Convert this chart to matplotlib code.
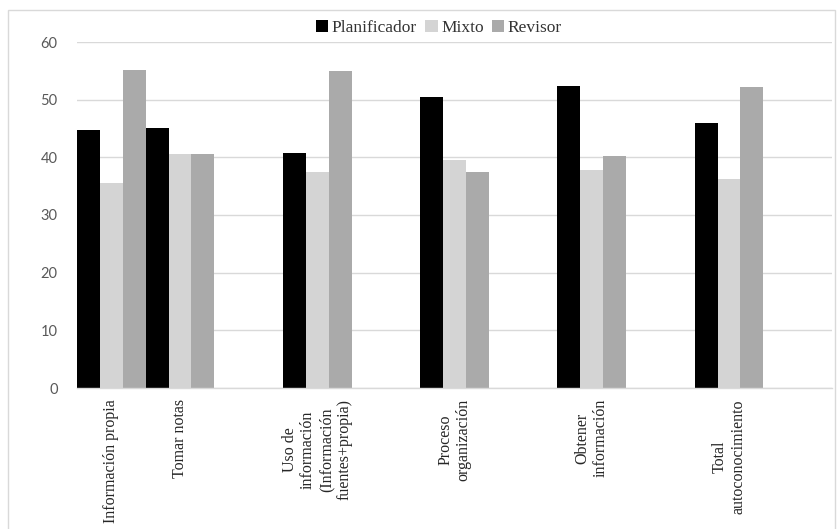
import numpy as np
import matplotlib
matplotlib.use('Agg')
import matplotlib.pyplot as plt
from matplotlib.patches import Rectangle

plt.rcParams['font.family'] = ['Liberation Serif', 'DejaVu Serif']

# 11 category slots on the x axis, 5 of them empty (as in the original sheet)
categorias = ['Información propia', 'Tomar notas', '',
              'Uso de\ninformación\n(Información\nfuentes+propia)', '',
              'Proceso\norganización', '', 'Obtener\ninformación', '',
              'Total\nautoconocimiento', '']
planificador = [44.8, 45.1, np.nan, 40.8, np.nan, 50.4, np.nan, 52.4, np.nan, 45.9, np.nan]
mixto = [35.6, 40.5, np.nan, 37.4, np.nan, 39.5, np.nan, 37.8, np.nan, 36.2, np.nan]
revisor = [55.2, 40.5, np.nan, 54.9, np.nan, 37.5, np.nan, 40.3, np.nan, 52.2, np.nan]
series = ['Planificador', 'Mixto', 'Revisor']
colores = ['#000000', '#d4d4d4', '#aaaaaa']

fig = plt.figure(figsize=(8.38, 5.29), dpi=100)
ax = fig.add_axes([77 / 838, 1 - 388 / 529, (832 - 77) / 838, (388 - 42) / 529])

x = np.arange(len(categorias))
w = 1 / 3
for i, (vals, lab, c) in enumerate(zip([planificador, mixto, revisor], series, colores)):
    ax.bar(x + (i - 1) * w, vals, width=w, color=c, label=lab, linewidth=0)

ax.set_xlim(-0.5, len(categorias) - 0.5)
ax.set_ylim(0, 60)
ax.set_yticks(range(0, 61, 10))
ax.yaxis.grid(True, color='#d9d9d9', linewidth=1)
ax.set_axisbelow(True)
for s in ['top', 'right', 'left']:
    ax.spines[s].set_visible(False)
ax.spines['bottom'].set_color('#d9d9d9')
ax.spines['bottom'].set_linewidth(1)
ax.tick_params(axis='both', length=0)
ax.tick_params(axis='y', pad=14, labelsize=10.5, labelcolor='#595959',
               labelfontfamily='Lato')

ax.set_xticks(x)
ax.set_xticklabels(categorias, rotation=90, fontsize=11.5,
                   color='#262626', ha='center', va='top', multialignment='center')
ax.tick_params(axis='x', pad=8)

fig.legend(loc='center', bbox_to_anchor=(439 / 838, 1 - 28 / 529), ncol=3, frameon=False,
           fontsize=12.5, handlelength=0.7, handleheight=0.7, handletextpad=0.2,
           columnspacing=0.5, labelcolor='#333333')

fig.patches.append(Rectangle((8 / 838, -0.05), (835 - 8) / 838, 1 - 10 / 529 + 0.05,
                             transform=fig.transFigure, fill=False, edgecolor='#d9d9d9',
                             linewidth=1))

fig.savefig('out.png', dpi=100)
